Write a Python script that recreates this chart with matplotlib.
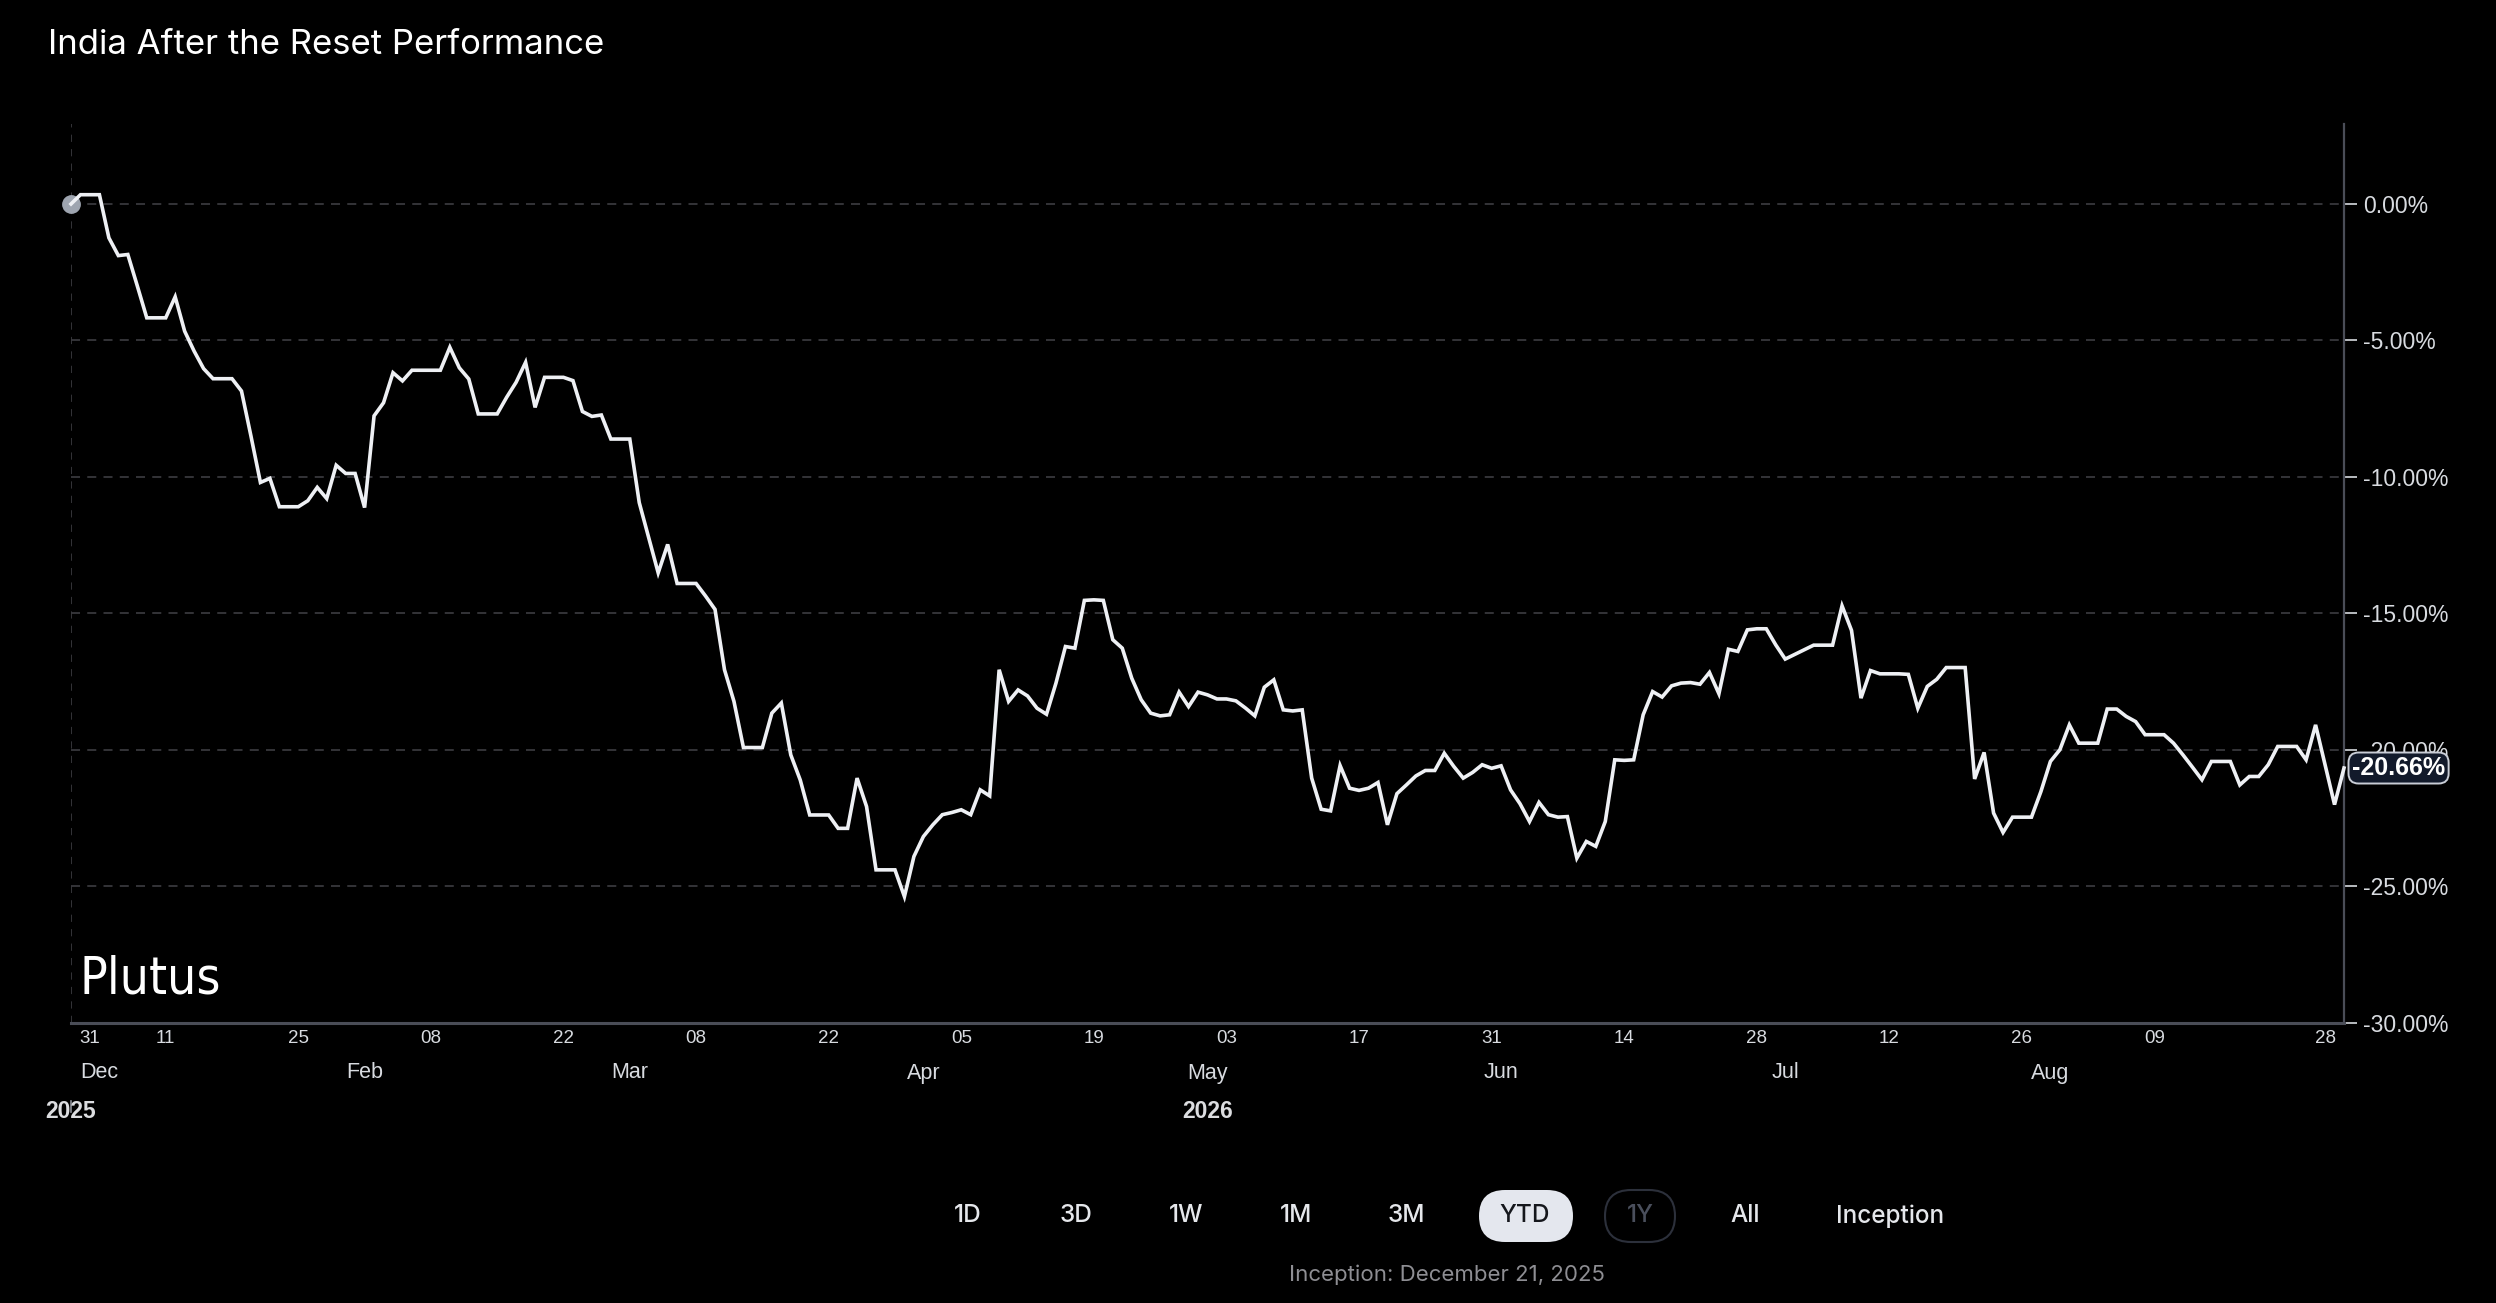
import matplotlib
matplotlib.use("Agg")
import matplotlib.pyplot as plt
from matplotlib import font_manager
from matplotlib.font_manager import FontProperties
from matplotlib.patches import FancyBboxPatch
from matplotlib.transforms import blended_transform_factory, IdentityTransform

# ---------------- data ----------------
title = "India After the Reset Performance"
perf = [
    0.00, 0.34, 0.34, 0.34, -1.24, -1.89, -1.85, -3.00, -4.17, -4.17,
    -4.17, -3.40, -4.66, -5.39, -6.03, -6.40, -6.40, -6.40, -6.85, -8.50,
    -10.20, -10.05, -11.09, -11.09, -11.09, -10.87, -10.38, -10.79, -9.57, -9.87,
    -9.87, -11.12, -7.76, -7.28, -6.18, -6.48, -6.09, -6.09, -6.09, -6.09,
    -5.25, -6.00, -6.41, -7.69, -7.69, -7.69, -7.08, -6.53, -5.80, -7.45,
    -6.35, -6.35, -6.35, -6.47, -7.60, -7.78, -7.73, -8.61, -8.61, -8.61,
    -10.94, -12.22, -13.51, -12.47, -13.90, -13.90, -13.90, -14.36, -14.85, -17.06,
    -18.22, -19.91, -19.91, -19.91, -18.65, -18.28, -20.18, -21.10, -22.38, -22.38,
    -22.38, -22.87, -22.87, -21.03, -22.07, -24.39, -24.39, -24.39, -25.37, -23.90,
    -23.17, -22.74, -22.37, -22.29, -22.19, -22.37, -21.46, -21.68, -17.06, -18.22,
    -17.80, -18.02, -18.47, -18.69, -17.55, -16.21, -16.27, -14.52, -14.50, -14.52,
    -15.96, -16.27, -17.37, -18.16, -18.65, -18.75, -18.71, -17.88, -18.41, -17.88,
    -17.98, -18.13, -18.13, -18.20, -18.46, -18.75, -17.70, -17.43, -18.53, -18.57,
    -18.53, -21.03, -22.17, -22.23, -20.57, -21.40, -21.48, -21.40, -21.19, -22.74,
    -21.60, -21.28, -20.95, -20.75, -20.75, -20.12, -20.60, -21.03, -20.82, -20.54,
    -20.67, -20.58, -21.46, -21.97, -22.62, -21.92, -22.37, -22.46, -22.44, -23.96,
    -23.35, -23.53, -22.62, -20.36, -20.38, -20.36, -18.71, -17.86, -18.06, -17.65,
    -17.55, -17.53, -17.59, -17.16, -17.94, -16.31, -16.39, -15.60, -15.56, -15.56,
    -16.15, -16.67, -16.50, -16.33, -16.16, -16.16, -16.16, -14.72, -15.62, -18.10,
    -17.09, -17.21, -17.21, -17.21, -17.23, -18.47, -17.67, -17.41, -16.98, -16.98,
    -16.98, -21.06, -20.09, -22.31, -23.02, -22.46, -22.46, -22.46, -21.52, -20.42,
    -19.99, -19.08, -19.75, -19.75, -19.75, -18.50, -18.50, -18.77, -18.96, -19.44,
    -19.44, -19.44, -19.75, -20.18, -20.63, -21.09, -20.42, -20.42, -20.42, -21.28,
    -20.97, -20.97, -20.54, -19.87, -19.87, -19.87, -20.36, -19.08, -20.54, -22.00,
    -20.66,
]
last_label = "-20.66%"
day_tick_pos = [2, 10, 24, 38, 52, 66, 80, 94, 108, 122, 136, 150, 164, 178, 192, 206, 220, 238]
day_tick_labels = ["31", "11", "25", "08", "22", "08", "22", "05", "19", "03",
                   "17", "31", "14", "28", "12", "26", "09", "28"]
month_pos = [3, 31, 59, 90, 120, 151, 181, 209]
month_labels = ["Dec", "Feb", "Mar", "Apr", "May", "Jun", "Jul", "Aug"]
year_pos = [0, 120]
year_labels = ["2025", "2026"]
y_ticks = [0, -5, -10, -15, -20, -25, -30]
buttons = ["1D", "3D", "1W", "1M", "3M", "YTD", "1Y", "All", "Inception"]
button_x = [968, 1076, 1186, 1296, 1406, 1525, 1640, 1745, 1890]
footer = "Inception: December 21, 2025"
brand = "Plutus"

# ---------------- fonts ----------------
avail = {f.name for f in font_manager.fontManager.ttflist}
ui_font = "Inter" if "Inter" in avail else "DejaVu Sans"
ax_font = "Liberation Sans" if "Liberation Sans" in avail else "DejaVu Sans"


def find_narrow():
    cands = []
    for f in font_manager.fontManager.ttflist:
        fn = f.fname.lower()
        if ("narrow" in fn or "condensed" in fn) and "bold" not in fn and "italic" not in fn \
                and "oblique" not in fn and "light" not in fn:
            score = 0 if "liberation" in fn else (1 if "dejavusans" in fn.replace("-", "") else 2)
            cands.append((score, f.fname))
    if cands:
        cands.sort()
        return FontProperties(fname=cands[0][1])
    return FontProperties(family=ax_font)


brand_fp = find_narrow()
brand_fp.set_size(37)

W, H = 2496, 1303
fig = plt.figure(figsize=(W / 100, H / 100), dpi=100, facecolor="black")

x_left, x_right = 71, 2344
y_top, y_bot = 124, 1023
ax = fig.add_axes([x_left / W, 1 - y_bot / H, (x_right - x_left) / W, (y_bot - y_top) / H])
ax.set_facecolor("black")
n = len(perf)
xs = list(range(n))
ax.set_xlim(0, n - 1)
ax.set_ylim(-30, 2.93)

axis_col = "#4a4d57"
grid_col = "#38383c"
for s in ["top", "left"]:
    ax.spines[s].set_visible(False)
ax.spines["right"].set_color(axis_col)
ax.spines["bottom"].set_color(axis_col)
ax.spines["right"].set_linewidth(1.6)
ax.spines["bottom"].set_linewidth(2.2)

# gridlines
for yv in y_ticks[:-1]:
    ax.axhline(yv, color=grid_col, lw=1.3, dashes=(5, 4), zorder=1)
ax.axvline(0, color=grid_col, lw=1.3, dashes=(4, 4), zorder=1)

# y axis on right
ax.yaxis.tick_right()
ax.set_yticks(y_ticks)
ax.set_yticklabels([f"{v:.2f}%" for v in y_ticks])
ax.tick_params(axis="y", colors="#d8dbe0", length=9, width=1.2, pad=5, labelsize=16.5)
for t in ax.get_yticklabels():
    t.set_fontfamily(ax_font)
for tl in ax.yaxis.get_ticklines():
    tl.set_color(grid_col)

# x axis ticks
ax.set_xticks(day_tick_pos)
ax.set_xticklabels(day_tick_labels)
ax.tick_params(axis="x", colors="#d8dbe0", length=0, pad=5, labelsize=13.5)
for t in ax.get_xticklabels():
    t.set_fontfamily(ax_font)

trans = blended_transform_factory(ax.transData, fig.transFigure)
for p, lab in zip(month_pos, month_labels):
    fig.text(p, 1 - 1073 / H, lab, transform=trans, ha="center", va="center",
             color="#d8dbe0", fontsize=15.5, family=ax_font)
for p, lab in zip(year_pos, year_labels):
    fig.text(p, 1 - 1111 / H, lab, transform=trans, ha="center", va="center",
             color="#dcdde0", fontsize=16.5, fontweight="bold", family=ax_font)
ax.plot([0, 0], [1 - 1101 / H, 1 - 1112 / H], transform=trans, color="#8a8d95",
        lw=1.2, clip_on=False)

# line and start dot
ax.plot([xs[0]], [perf[0]], "o", ms=12.5, color="#9ea5b0", zorder=3, clip_on=False)
ax.plot(xs, perf, color="#eef0f4", lw=2.6, zorder=4, solid_joinstyle="miter", clip_on=False)

# last value label
ax.annotate(last_label, xy=(1.0, perf[-1]), xycoords=("axes fraction", "data"),
            xytext=(8, 0), textcoords="offset pixels", ha="left", va="center",
            color="white", fontsize=18, fontweight="bold", family=ax_font,
            bbox=dict(boxstyle="round,pad=0.14,rounding_size=0.4", fc="#121a2b",
                      ec="#c9cdd6", lw=1.4),
            annotation_clip=False, zorder=10)

# title & brand
fig.text(48 / W, 1 - 45 / H, title, ha="left", va="center", color="white",
         fontsize=25, family=ui_font)
fig.text(79 / W, 1 - 993 / H, brand, ha="left", va="baseline", color="white",
         fontproperties=brand_fp)

# buttons row
by = 1216
pill_h = 52
ytd_i = buttons.index("YTD")
y1_i = buttons.index("1Y")
fig.add_artist(FancyBboxPatch((1479, H - by - pill_h / 2), 94, pill_h,
                              boxstyle="round,pad=0,rounding_size=26",
                              transform=IdentityTransform(), fc="#e4e7ee", ec="none"))
fig.add_artist(FancyBboxPatch((1605, H - by - pill_h / 2), 70, pill_h,
                              boxstyle="round,pad=0,rounding_size=26",
                              transform=IdentityTransform(), fc="none", ec="#2c303b", lw=1.5))
for i, (lab, bx) in enumerate(zip(buttons, button_x)):
    col = "#e5e7eb"
    if i == ytd_i:
        col = "#15171c"
    elif i == y1_i:
        col = "#4a4f5c"
    fig.text(bx / W, 1 - by / H, lab, ha="center", va="center", color=col,
             fontsize=17.5, fontweight="medium", family=ui_font)

fig.text(1447 / W, 1 - 1275 / H, footer, ha="center", va="center", color="#8e8e93",
         fontsize=16, family=ui_font)

fig.savefig("out.png", dpi=100, facecolor="black")
